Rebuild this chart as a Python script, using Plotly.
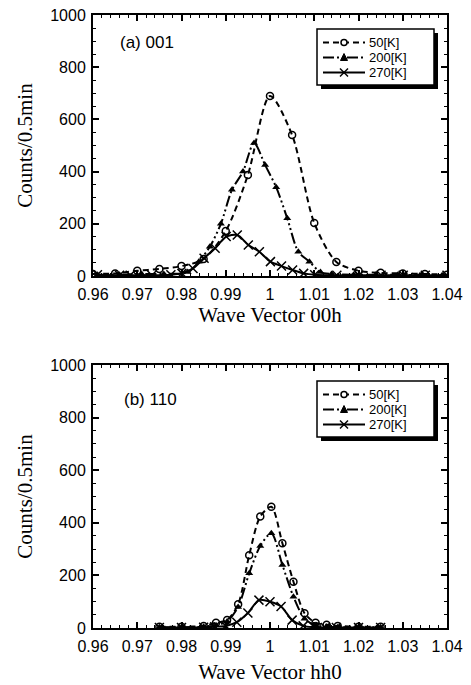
import plotly.graph_objects as go

# ---------------- data ----------------
series_names = ["50[K]", "200[K]", "270[K]"]

# panel (a) 001
a_50_x = [0.96, 0.965, 0.97, 0.975, 0.98, 0.985, 0.99, 0.995, 1.0, 1.005, 1.01, 1.015, 1.02, 1.025, 1.03, 1.035, 1.04]
a_50_y = [8, 10, 20, 27, 38, 65, 172, 387, 690, 540, 203, 54, 20, 12, 10, 8, 5]

a_200_x = [0.961, 0.966, 0.971, 0.976, 0.9814, 0.9839, 0.9864, 0.9889, 0.9914, 0.9939, 0.9964, 0.9989,
           1.0014, 1.0039, 1.0064, 1.0089, 1.0114, 1.0139, 1.0189, 1.0239, 1.0289, 1.0339, 1.0389]
a_200_y = [5, 5, 8, 8, 15, 55, 112, 200, 330, 400, 510, 425, 340, 221, 93, 55, 15, 8, 5, 5, 5, 3, 3]

a_270_x = [0.961, 0.966, 0.9684, 0.9733, 0.9776, 0.9801, 0.9826, 0.9851, 0.9876, 0.9901, 0.9926, 0.9951,
           0.9976, 1.0001, 1.0026, 1.0051, 1.0076, 1.0101, 1.0151, 1.0201, 1.0251, 1.0301, 1.0351, 1.04]
a_270_y = [5, 3, 3, 3, 5, 10, 29, 68, 106, 151, 157, 119, 93, 55, 38, 23, 10, 5, 3, 3, 3, 3, 3, 3]

# panel (b) 110
b_50_x = [0.975, 0.98, 0.985, 0.9878, 0.9903, 0.9928, 0.9953, 0.9978, 1.0003, 1.0028, 1.0053, 1.0078,
          1.0103, 1.0128, 1.0153, 1.02, 1.025]
b_50_y = [5, 5, 8, 20, 30, 90, 277, 424, 461, 322, 176, 56, 20, 12, 8, 5, 5]

b_200_x = [0.975, 0.98, 0.985, 0.9878, 0.9903, 0.9928, 0.9953, 0.9978, 1.0003, 1.0028, 1.0053, 1.0078,
           1.0103, 1.0128, 1.0153, 1.02, 1.025]
b_200_y = [3, 3, 5, 10, 25, 80, 208, 312, 360, 240, 119, 35, 10, 5, 3, 3, 3]

b_270_x = [0.975, 0.98, 0.985, 0.9875, 0.99, 0.9925, 0.995, 0.9975, 1.0, 1.0025, 1.005, 1.0075, 1.01,
           1.0125, 1.015, 1.02, 1.025]
b_270_y = [2, 2, 3, 5, 8, 22, 57, 106, 100, 82, 30, 8, 3, 2, 2, 2, 2]

x_tick_vals = [0.96, 0.97, 0.98, 0.99, 1.0, 1.01, 1.02, 1.03, 1.04]
x_tick_text = ["0.96", "0.97", "0.98", "0.99", "1", "1.01", "1.02", "1.03", "1.04"]
y_tick_vals = [0, 200, 400, 600, 800, 1000]
y_tick_text = ["0", "200", "400", "600", "800", "1000"]

panel_labels = ["(a) 001", "(b) 110"]
x_titles = ["Wave Vector 00h", "Wave Vector hh0"]
y_title = "Counts/0.5min"

# ---------------- layout geometry (pixels) ----------------
W, H = 471, 685
ML, MR, MT, MB = 93, 24, 15, 57
PW = W - ML - MR
PH = H - MT - MB

def px_x(p):
    return (p - ML) / PW

def px_y(p):
    return (H - MB - p) / PH

# ---------------- styles ----------------
dashes = ["6px,4px", "11px,3px,2px,3px,2px,3px", "solid"]
markers = [
    dict(symbol="circle-open", size=7, color="black", line=dict(width=1.5)),
    dict(symbol="triangle-up", size=7, color="black"),
    dict(symbol="x-thin-open", size=9, color="black", line=dict(width=1.5)),
]

fig = go.Figure()

panels = [
    ("x", "y", [(a_50_x, a_50_y), (a_200_x, a_200_y), (a_270_x, a_270_y)]),
    ("x2", "y2", [(b_50_x, b_50_y), (b_200_x, b_200_y), (b_270_x, b_270_y)]),
]
for xa, ya, data in panels:
    for (xs, ys), name, dsh, mk in zip(data, series_names, dashes, markers):
        fig.add_trace(go.Scatter(
            x=xs, y=ys, name=name, mode="lines+markers", showlegend=False,
            line=dict(color="black", width=2, dash=dsh, shape="spline", smoothing=0.8),
            marker=mk, xaxis=xa, yaxis=ya,
        ))

FONT_TICK = dict(family="Liberation Sans, Arial", size=16, color="black")
FONT_TITLE = dict(family="Liberation Serif, Times New Roman", size=21, color="black")

def xaxis_cfg(anchor, title, standoff):
    return dict(
        domain=[0, 1], anchor=anchor, range=[0.96, 1.04], automargin=False,
        tickvals=x_tick_vals, ticktext=x_tick_text, tickfont=FONT_TICK,
        ticks="inside", ticklen=6, tickwidth=1.5, tickcolor="black", ticklabelstandoff=3,
        minor=dict(dtick=0.002, tick0=0.96, ticks="inside", ticklen=3, tickwidth=1, tickcolor="black"),
        showline=True, linecolor="black", linewidth=2, mirror="allticks",
        showgrid=False, zeroline=False,
        title=dict(text=title, font=FONT_TITLE, standoff=standoff),
    )

def yaxis_cfg(anchor, domain):
    return dict(
        domain=domain, anchor=anchor, range=[0, 1000], automargin=False,
        tickvals=y_tick_vals, ticktext=y_tick_text, tickfont=FONT_TICK,
        ticks="inside", ticklen=6, tickwidth=1.5, tickcolor="black", ticklabelstandoff=2,
        minor=dict(dtick=50, ticks="inside", ticklen=3, tickwidth=1, tickcolor="black"),
        showline=True, linecolor="black", linewidth=2, mirror="allticks",
        showgrid=False, zeroline=False,
        title=dict(text=y_title, font=FONT_TITLE, standoff=12),
    )

top_dom = [px_y(276), 1.0]
bot_dom = [0.0, px_y(365)]

# ---------------- custom legend boxes ----------------
shapes = []
annotations = []

def add_legend(box_l, box_t, box_r, box_b, rows):
    # shadow
    shapes.append(dict(type="rect", xref="paper", yref="paper",
                       x0=px_x(box_l + 4), x1=px_x(box_r + 4), y0=px_y(box_b + 4), y1=px_y(box_t + 4),
                       fillcolor="black", line=dict(width=0), layer="above"))
    shapes.append(dict(type="rect", xref="paper", yref="paper",
                       x0=px_x(box_l), x1=px_x(box_r), y0=px_y(box_b), y1=px_y(box_t),
                       fillcolor="white", line=dict(color="black", width=1.5), layer="above"))
    lx0, lx1 = box_l + 6, box_l + 48
    mx = (lx0 + lx1) / 2
    for i, ry in enumerate(rows):
        shapes.append(dict(type="line", xref="paper", yref="paper",
                           x0=px_x(lx0), x1=px_x(lx1), y0=px_y(ry), y1=px_y(ry),
                           line=dict(color="black", width=2, dash=dashes[i]), layer="above"))
        if i == 0:
            shapes.append(dict(type="circle", xref="paper", yref="paper",
                               x0=px_x(mx - 3), x1=px_x(mx + 3), y0=px_y(ry + 3), y1=px_y(ry - 3),
                               fillcolor="white", line=dict(color="black", width=1.5), layer="above"))
        elif i == 1:
            path = "M {} {} L {} {} L {} {} Z".format(
                px_x(mx - 3.5), px_y(ry + 3), px_x(mx + 3.5), px_y(ry + 3), px_x(mx), px_y(ry - 4))
            shapes.append(dict(type="path", xref="paper", yref="paper", path=path,
                               fillcolor="black", line=dict(color="black", width=1), layer="above"))
        else:
            for s in (1, -1):
                shapes.append(dict(type="line", xref="paper", yref="paper",
                                   x0=px_x(mx - 4), x1=px_x(mx + 4), y0=px_y(ry - 4 * s), y1=px_y(ry + 4 * s),
                                   line=dict(color="black", width=1.5), layer="above"))
        annotations.append(dict(text=series_names[i], xref="paper", yref="paper",
                                x=px_x(lx1 + 2), y=px_y(ry), xanchor="left", yanchor="middle",
                                showarrow=False,
                                font=dict(family="Liberation Sans, Arial", size=13, color="black")))

add_legend(317, 29, 434, 85, [42.5, 57.5, 72.5])
add_legend(317, 381, 434, 437, [394.5, 409.5, 424.5])

annotations.append(dict(text=panel_labels[0], x=0.9657, y=893, xref="x", yref="y", showarrow=False,
                        xanchor="left", font=dict(family="Liberation Sans, Arial", size=17, color="black")))
annotations.append(dict(text=panel_labels[1], x=0.9666, y=867, xref="x2", yref="y2", showarrow=False,
                        xanchor="left", font=dict(family="Liberation Sans, Arial", size=17, color="black")))

fig.update_layout(
    width=W, height=H,
    margin=dict(l=ML, r=MR, t=MT, b=MB),
    paper_bgcolor="white", plot_bgcolor="white",
    xaxis=xaxis_cfg("y", x_titles[0], 4),
    yaxis=yaxis_cfg("x", top_dom),
    xaxis2=xaxis_cfg("y2", x_titles[1], 10),
    yaxis2=yaxis_cfg("x2", bot_dom),
    showlegend=False,
    shapes=shapes,
    annotations=annotations,
)

fig.write_html("out.html")
